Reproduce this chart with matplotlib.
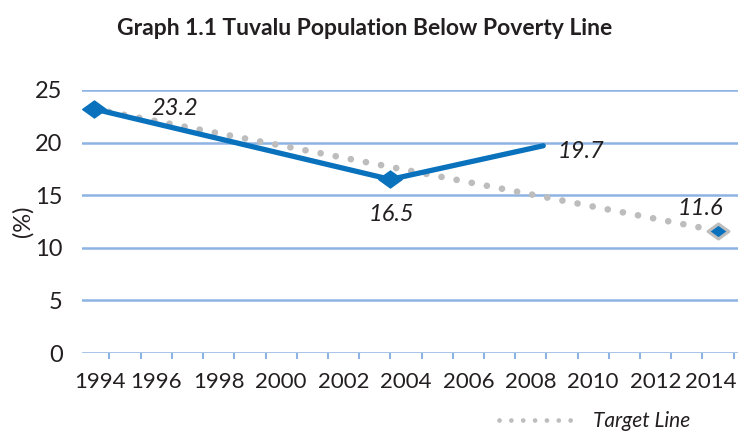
import matplotlib.pyplot as plt
from matplotlib.lines import Line2D
from matplotlib.path import Path
from matplotlib.transforms import ScaledTranslation

# data
actual_years = [1994, 2003.5, 2008.4]
actual_values = [23.2, 16.5, 19.7]
target_years = [1994, 2014]
target_values = [23.2, 11.6]
tick_years = list(range(1994, 2015, 2))
year_marks = [y + 0.5 for y in range(1994, 2015)]
y_ticks = [0, 5, 10, 15, 20, 25]

BLUE = '#0a72bd'
GRID = '#8db3e2'
GREY = '#bdbdbd'
TEXT = '#231f20'

plt.rcParams['font.family'] = ['Lato', 'DejaVu Sans']

diamond = Path([(-1, 0), (0, 0.72), (1, 0), (0, -0.72), (-1, 0)],
               [Path.MOVETO, Path.LINETO, Path.LINETO, Path.LINETO, Path.CLOSEPOLY])


def run():
    fig = plt.figure(figsize=(7.42, 4.37), dpi=100)
    ax = fig.add_axes([82 / 742, 1 - 353 / 437, 656 / 742, 263 / 437])

    for y in y_ticks:
        ax.axhline(y, color=GRID, lw=1.8, zorder=1)

    # target line
    ax.plot(target_years, target_values, color=GREY, lw=4.8,
            linestyle=(0, (0.01, 2.3)), dash_capstyle='round', zorder=2)
    ax.plot(target_years[-1], target_values[-1], marker=diamond, ms=15,
            mfc=BLUE, mec=GREY, mew=2.2, zorder=4, clip_on=False)

    # actual line
    ax.plot(actual_years, actual_values, color=BLUE, lw=3.8,
            solid_capstyle='round', zorder=3)
    ax.plot(actual_years[:2], actual_values[:2], linestyle='none', marker=diamond,
            ms=17, mfc=BLUE, mec=BLUE, zorder=4, clip_on=False)

    lab = dict(fontsize=17, style='italic', color=TEXT, ha='center', va='center')
    ax.annotate('23.2', (actual_years[0], actual_values[0]), xytext=(58, 0),
                textcoords='offset points', **lab)
    ax.annotate('16.5', (actual_years[1], actual_values[1]), xytext=(1, -25),
                textcoords='offset points', **lab)
    ax.annotate('19.7', (actual_years[2], actual_values[2]), xytext=(27, -4),
                textcoords='offset points', **lab)
    ax.annotate('11.6', (target_years[1], target_values[1]), xytext=(-13, 16),
                textcoords='offset points', **lab)

    ax.set_xlim(1993.62, 2014.64)
    ax.set_ylim(0, 25)
    ax.set_xticks(tick_years)
    ax.set_xticklabels([str(y) for y in tick_years])
    ax.set_xticks(year_marks, minor=True)
    ax.tick_params(axis='x', which='major', length=0, pad=14, labelsize=16, labelcolor=TEXT)
    ax.tick_params(axis='x', which='minor', length=4, width=1.5, color=GRID, direction='out',
                   pad=3)
    ax.set_yticks(y_ticks)
    ax.tick_params(axis='y', length=0, pad=14, labelsize=17, labelcolor=TEXT)
    for s in ax.spines.values():
        s.set_visible(False)

    # nudge the end labels inward like the reference
    labels = ax.get_xticklabels()
    labels[0].set_transform(labels[0].get_transform()
                            + ScaledTranslation(6 / 100, 0, fig.dpi_scale_trans))
    labels[-1].set_transform(labels[-1].get_transform()
                             + ScaledTranslation(-7 / 100, 0, fig.dpi_scale_trans))

    ax.set_ylabel('(%)', fontsize=17, color=TEXT, labelpad=1)

    fig.text(0.492, 0.935, 'Graph 1.1 Tuvalu Population Below Poverty Line',
             ha='center', va='center', fontsize=16.5, fontweight='bold', color=TEXT)

    handle = Line2D([], [], color=GREY, lw=3.4, linestyle=(0, (0.01, 2.5)),
                    dash_capstyle='round')
    fig.legend([handle], ['Target Line'], loc='lower right',
               bbox_to_anchor=(0.955, -0.03), frameon=False, handlelength=3.9,
               handletextpad=0.6, prop={'size': 15, 'style': 'italic'},
               labelcolor=TEXT)

    plt.savefig('out.png', dpi=100)


if __name__ == '__main__':
    run()
